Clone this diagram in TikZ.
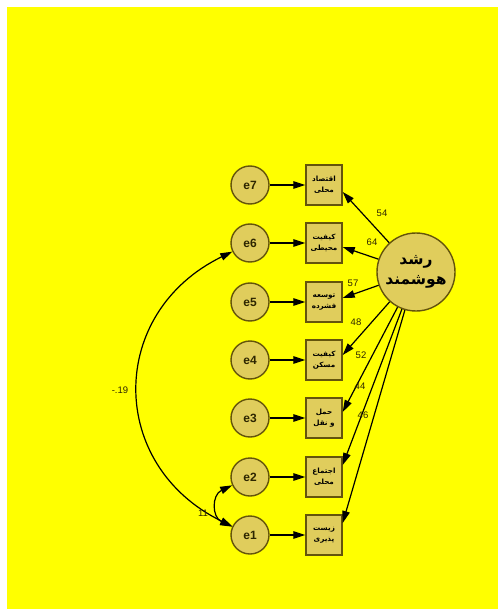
\documentclass[tikz,border=0pt]{standalone}
\usepackage{fontspec}
\setmainfont{Liberation Sans}
\newfontfamily\arabicfont[Script=Arabic]{DejaVu Sans}
\TeXXeTstate=1
\usetikzlibrary{arrows.meta}
\definecolor{bgyellow}{RGB}{255,255,0}
\definecolor{nodefill}{RGB}{224,205,92}
\definecolor{nodeline}{RGB}{100,84,12}
\definecolor{txtcol}{RGB}{45,38,0}
\tikzset{
  errnode/.style={circle, draw=nodeline, fill=nodefill, line width=1.4pt, minimum size=38pt, inner sep=0pt, text=txtcol, font=\bfseries\fontsize{12}{13}\selectfont},
  obsbox/.style={rectangle, draw=nodeline, fill=nodefill, line width=1.4pt, minimum width=36pt, minimum height=40pt, inner sep=0pt, align=center, text=black, font=\arabicfont\bfseries\fontsize{7.2}{11}\selectfont},
  latnode/.style={circle, draw=nodeline, fill=nodefill, line width=1.4pt, minimum size=78pt, inner sep=0pt, align=center, text=black, font=\arabicfont\bfseries\fontsize{15.5}{20}\selectfont},
  arr/.style={draw=black, line width=1.2pt, -{Triangle[length=12pt,width=7.5pt]}},
  biarr/.style={draw=black, line width=1.2pt, {Triangle[length=12pt,width=7.5pt]}-{Triangle[length=12pt,width=7.5pt]}},
  lbl/.style={inner sep=0pt, text=txtcol, font=\fontsize{9.5}{10}\selectfont}
}
\begin{document}
\begin{tikzpicture}[x=1pt,y=-1pt]
\useasboundingbox (0,0) rectangle (498,609);
\fill[white] (0,0) rectangle (498,609);
\fill[bgyellow] (7,7) rectangle (498,609);

% error terms
\node[errnode] (e7) at (250,185) {e7};
\node[errnode] (e6) at (250,243) {e6};
\node[errnode] (e5) at (250,302) {e5};
\node[errnode] (e4) at (250,360) {e4};
\node[errnode] (e3) at (250,418) {e3};
\node[errnode] (e2) at (250,477) {e2};
\node[errnode] (e1) at (250,535) {e1};

% observed variables
\node[obsbox] (b7) at (324,185) {\beginR اقتصاد\endR\\\beginR محلی\endR};
\node[obsbox] (b6) at (324,243) {\beginR کیفیت\endR\\\beginR محیطی\endR};
\node[obsbox] (b5) at (324,302) {\beginR توسعه\endR\\\beginR فشرده\endR};
\node[obsbox] (b4) at (324,360) {\beginR کیفیت\endR\\\beginR مسکن\endR};
\node[obsbox] (b3) at (324,418) {\beginR حمل\endR\\\beginR و نقل\endR};
\node[obsbox] (b2) at (324,477) {\beginR اجتماع\endR\\\beginR محلی\endR};
\node[obsbox] (b1) at (324,535) {\beginR زیست\endR\\\beginR پذیری\endR};

% latent variable
\node[latnode] (g) at (416,272) {\beginR رشد\endR\\\beginR هوشمند\endR};

% error -> indicator
\draw[arr] (e7) -- (b7);
\draw[arr] (e6) -- (b6);
\draw[arr] (e5) -- (b5);
\draw[arr] (e4) -- (b4);
\draw[arr] (e3) -- (b3);
\draw[arr] (e2) -- (b2);
\draw[arr] (e1) -- (b1);

% latent -> indicators
\draw[arr] (g) -- ([yshift=-7pt]b7.east);
\draw[arr] (g) -- ([yshift=-4pt]b6.east);
\draw[arr] (g) -- ([yshift=4pt]b5.east);
\draw[arr] (g) -- ([yshift=5pt]b4.east);
\draw[arr] (g) -- ([yshift=6pt]b3.east);
\draw[arr] (g) -- ([yshift=12pt]b2.east);
\draw[arr] (g) -- ([yshift=12pt]b1.east);

% covariances
\draw[biarr] (e6) to[out=206,in=154,looseness=1.3] (e1);
\draw[biarr] (e2) to[out=205,in=155,looseness=1.4] (e1);

% labels
\node[lbl] (l7) at (382,213) {54};
\node[lbl] (l6) at (372,242) {64};
\node[lbl] (l5) at (353,283) {57};
\node[lbl] (l4) at (356,322) {48};
\node[lbl] (l3) at (361,355) {52};
\node[lbl] (l2) at (360,386) {44};
\node[lbl] (l1) at (363,415) {46};
\node[lbl] (c61) at (120,390) {-.19};
\node[lbl] (c21) at (203,513) {11};
\end{tikzpicture}
\end{document}
